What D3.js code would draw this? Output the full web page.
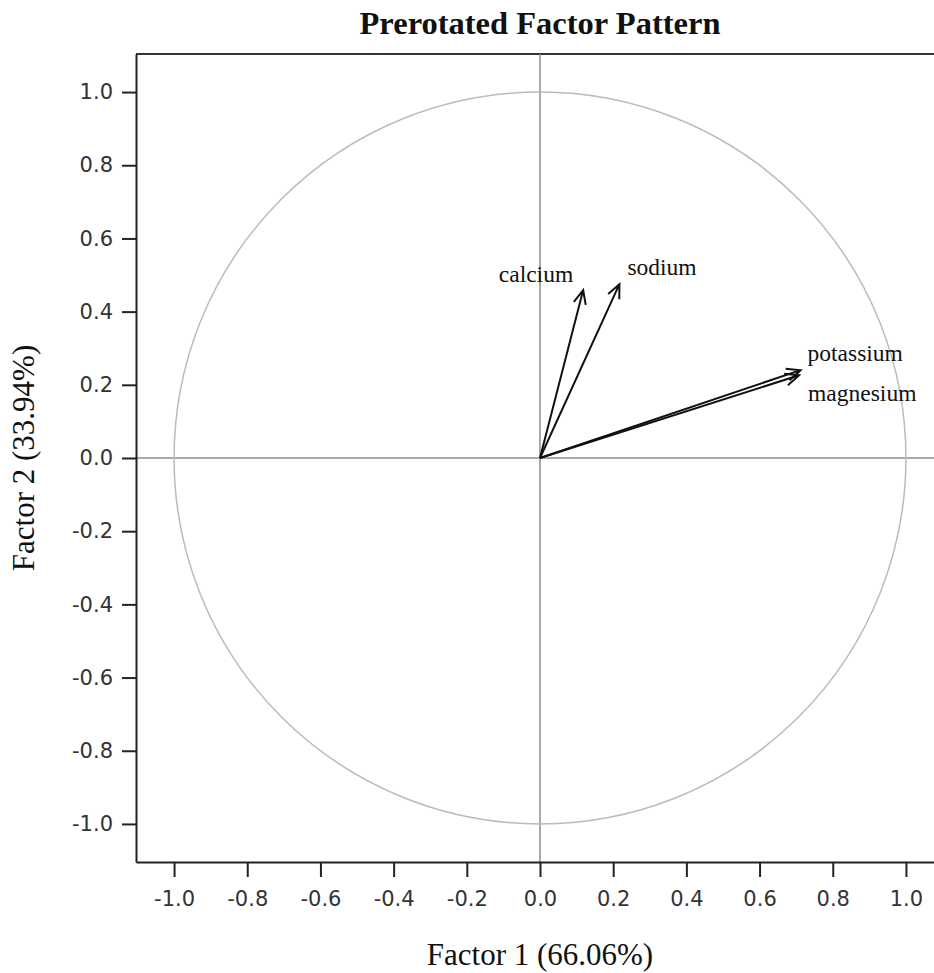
<html><head>
  <script src="https://d3js.org/d3.v7.min.js"></script>
  <style>
  body { margin: 0; background: #fff; }
  .axis text { font-family: "DejaVu Sans", sans-serif; font-size: 21px; fill: #333; }
  .axis line, .axis path { stroke: #222; stroke-width: 2; }
  .vlabel { font-family: "Liberation Serif", "Times New Roman", serif; font-size: 23.5px; fill: #111; }
  .title { font-family: "Liberation Serif", "Times New Roman", serif; font-weight: bold; font-size: 32.5px; fill: #111; }
  .atitle { font-family: "Liberation Serif", "Times New Roman", serif; font-size: 31px; fill: #111; }
  </style>
</head>
<body>
  <svg id="chart" width="934" height="973"></svg>
  <script>
    // variables and their loadings on factor 1 / factor 2
    const variables = ["calcium", "sodium", "potassium", "magnesium"];
    const factor1 = [0.118, 0.217, 0.712, 0.708];
    const factor2 = [0.459, 0.475, 0.240, 0.226];
    const ticks = [-1.0, -0.8, -0.6, -0.4, -0.2, 0.0, 0.2, 0.4, 0.6, 0.8, 1.0];

    let svg = d3.select("svg#chart");
    const lim = 1.104;

    const xScale = d3.scaleLinear().domain([-lim, lim]).range([136, 944]);
    const yScale = d3.scaleLinear().domain([-lim, lim]).range([862, 54]);

    // title and axis titles
    svg.append("text").attr("class","title")
       .attr("x", xScale(0)).attr("y", 34)
       .attr("text-anchor","middle")
       .text("Prerotated Factor Pattern");

    svg.append("text").attr("class","atitle")
       .attr("x", xScale(0)).attr("y", 965)
       .attr("text-anchor","middle")
       .text("Factor 1 (66.06%)");

    svg.append("text").attr("class","atitle")
       .attr("transform","translate(34,"+ yScale(0) +") rotate(-90)")
       .attr("text-anchor","middle")
       .text("Factor 2 (33.94%)");

    // frame top line
    svg.append("line")
       .attr("x1", xScale(-lim)).attr("x2", xScale(lim))
       .attr("y1", yScale(lim)).attr("y2", yScale(lim))
       .attr("stroke","#333").attr("stroke-width",2);

    // reference lines
    svg.append("line")
       .attr("x1", xScale(0)).attr("x2", xScale(0))
       .attr("y1", yScale(lim)).attr("y2", yScale(-lim))
       .attr("stroke","#8c8c8c").attr("stroke-width",1.5);
    svg.append("line")
       .attr("x1", xScale(-lim)).attr("x2", xScale(lim))
       .attr("y1", yScale(0)).attr("y2", yScale(0))
       .attr("stroke","#8c8c8c").attr("stroke-width",1.5);

    // unit circle
    svg.append("ellipse")
       .attr("cx", xScale(0)).attr("cy", yScale(0))
       .attr("rx", xScale(1) - xScale(0)).attr("ry", yScale(0) - yScale(1))
       .attr("fill","none").attr("stroke","#bbb").attr("stroke-width",1.5);

    // axes
    let xAxis = d3.axisBottom(xScale).tickValues(ticks).tickFormat(d3.format(".1f"))
                  .tickSize(15).tickPadding(14).tickSizeOuter(0);
    svg.append("g").attr("class","x axis")
       .attr("transform","translate(0,"+ yScale(-lim) +")")
       .call(xAxis);

    let yAxis = d3.axisLeft(yScale).tickValues(ticks).tickFormat(d3.format(".1f"))
                  .tickSize(14).tickPadding(9).tickSizeOuter(0);
    svg.append("g").attr("class","y axis")
       .attr("transform","translate("+ xScale(-lim) +",0)")
       .call(yAxis);

    svg.selectAll(".axis text").text(function(){ return this.textContent.replace("−","-"); });

    // arrows
    const head = 15, spread = 0.42;
    const labelPlace = {
      calcium:   {dx: -10, dy: -8,  anchor: "end"},
      sodium:    {dx: 8,   dy: -9,  anchor: "start"},
      potassium: {dx: 7,   dy: -9,  anchor: "start"},
      magnesium: {dx: 9,   dy: 26,  anchor: "start"}
    };

    let vecs = svg.append("g");
    variables.forEach((v, i) => {
      const x0 = xScale(0), y0 = yScale(0);
      const x1 = xScale(factor1[i]), y1 = yScale(factor2[i]);
      const ang = Math.atan2(y1 - y0, x1 - x0);
      const path = d3.path();
      path.moveTo(x0, y0);
      path.lineTo(x1, y1);
      path.moveTo(x1 - head*Math.cos(ang - spread), y1 - head*Math.sin(ang - spread));
      path.lineTo(x1, y1);
      path.lineTo(x1 - head*Math.cos(ang + spread), y1 - head*Math.sin(ang + spread));
      vecs.append("path")
          .attr("d", path.toString())
          .attr("fill","none").attr("stroke","#111").attr("stroke-width",2)
          .attr("stroke-linejoin","miter");

      const p = labelPlace[v];
      vecs.append("text").attr("class","vlabel")
          .attr("x", x1 + p.dx).attr("y", y1 + p.dy)
          .attr("text-anchor", p.anchor)
          .text(v);
    });
  </script>
</body>
</html>
